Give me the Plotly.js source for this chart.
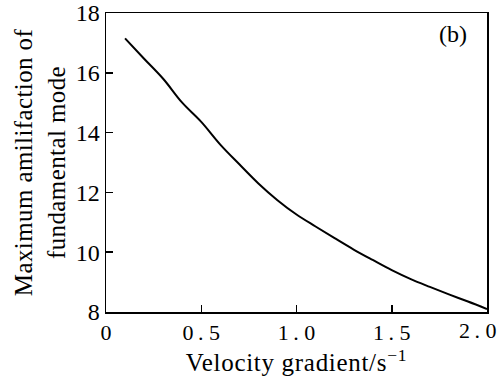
<!DOCTYPE html>
<html>
<head>
<meta charset="utf-8">
<script src="https://cdn.plot.ly/plotly-3.0.1.min.js"></script>
<style>
html,body{margin:0;padding:0;background:#fff;}
#chart{width:499px;height:378px;}
#chart .g-xtitle text{letter-spacing:0.7px;}
#chart .g-ytitle text{letter-spacing:0.4px;}
</style>
</head>
<body>
<div id="chart"></div>
<script>
const velocityGradient = [0.1,0.2,0.3,0.4,0.5,0.6,0.7,0.8,0.9,1.0,1.1,1.2,1.3,1.4,1.5,1.6,1.7,1.8,1.9,2.0];
const maxAmplification = [17.15,16.47,15.80,15.00,14.36,13.60,12.94,12.30,11.74,11.26,10.86,10.47,10.09,9.74,9.40,9.10,8.84,8.59,8.35,8.10];
const xTickVals = [0,0.5,1.0,1.5,2.0];
const xTickText = ["0","0\u2009. 5","1\u2009. 0","1\u2009. 5",""];
const xLastTickLabel = "2\u2009. 0";
const yTickVals = [8,10,12,14,16,18];
const yTickText = ["8","10","12","14","16","18"];

const serif = "Liberation Serif";
const trace = {
  x: velocityGradient, y: maxAmplification, type: 'scatter', mode: 'lines',
  line: {color: '#000', width: 2, shape: 'spline', smoothing: 1},
  showlegend: false, hoverinfo: 'none'
};
const layout = {
  width: 499, height: 378,
  margin: {l: 106, r: 12, t: 13, b: 66},
  paper_bgcolor: '#fff', plot_bgcolor: '#fff',
  font: {family: serif, color: '#000'},
  xaxis: {
    range: [0, 2.0], tickvals: xTickVals, ticktext: xTickText,
    ticks: 'inside', ticklen: 7, tickwidth: 1.5, tickcolor: '#000',
    showline: true, linecolor: '#000', linewidth: 1.5, mirror: true,
    showgrid: false, zeroline: false,
    tickfont: {family: serif, size: 22, color: '#000'},
    title: {text: 'Velocity gradient/s<sup>\u22121</sup>', font: {family: serif, size: 25, color: '#000'}, standoff: 5}
  },
  yaxis: {
    range: [8, 18], tickvals: yTickVals, ticktext: yTickText,
    ticks: 'inside', ticklen: 7, tickwidth: 1.5, tickcolor: '#000',
    showline: true, linecolor: '#000', linewidth: 1.5, mirror: true,
    showgrid: false, zeroline: false, ticklabeloverflow: 'allow',
    tickfont: {family: serif, size: 24, color: '#000'},
    title: {text: 'Maximum amilifaction of<br>fundamental mode', font: {family: serif, size: 25, color: '#000'}, standoff: 3}
  },
  annotations: [{
    text: '(b)', xref: 'paper', yref: 'paper', x: 0.911, y: 0.93,
    xanchor: 'center', yanchor: 'middle',
    showarrow: false, font: {family: serif, size: 24, color: '#000'}
  }, {
    text: xLastTickLabel, xref: 'x', yref: 'paper', x: xTickVals[4], y: 0,
    xanchor: 'right', yanchor: 'middle', xshift: 11, yshift: -18,
    showarrow: false, font: {family: serif, size: 22, color: '#000'}
  }]
};
Plotly.newPlot('chart', [trace], layout, {displayModeBar: false, staticPlot: true});
</script>
</body>
</html>
